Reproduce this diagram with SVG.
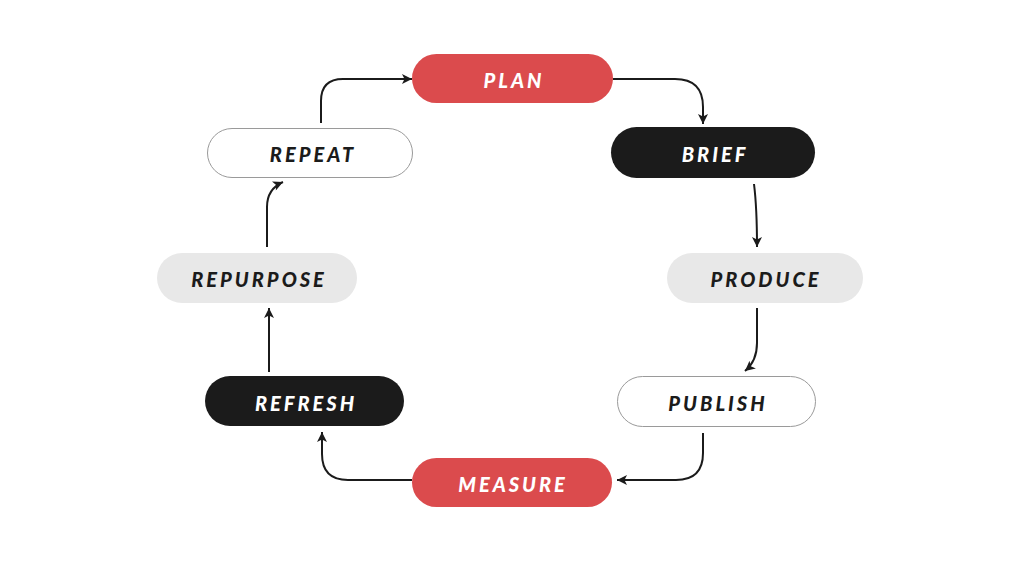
<svg xmlns="http://www.w3.org/2000/svg" width="1024" height="576" viewBox="0 0 1024 576">
<style>
.lbl{font-family:Lato,"Open Sans","Liberation Sans",sans-serif;font-weight:900;font-style:italic;font-size:20px;letter-spacing:3px;text-anchor:middle}
.red rect{fill:#DB4B4D}
.red text{fill:#ffffff}
.dark rect{fill:#1B1B1B}
.dark text{fill:#ffffff}
.grey rect{fill:#E8E8E8}
.grey text{fill:#1B1B1B}
.white rect{fill:#ffffff;stroke:#9a9a9a;stroke-width:1}
.white text{fill:#1B1B1B}
.conn path{fill:none;stroke:#1B1B1B;stroke-width:2;marker-end:url(#arr)}
</style>
<defs>
<marker id="arr" viewBox="0 0 10 10" refX="10" refY="5" markerWidth="11" markerHeight="10" markerUnits="userSpaceOnUse" orient="auto">
<path d="M0,0 L10,5 L0,10 L2.5,5 z" fill="#1B1B1B"/>
</marker>
</defs>
<rect width="1024" height="576" fill="#ffffff"/>
<g id="connectors" class="conn">
<path d="M321,123 V101 Q321,79 343,79 H412"/>
<path d="M613,79 H675 Q703,79 703,107 V124"/>
<path d="M754,184 Q757,208 757,247"/>
<path d="M757,308 V343 Q757,361 745,371"/>
<path d="M703,433 V453 Q703,480 676,480 H617"/>
<path d="M412,480 H348 Q322,480 322,454 V432"/>
<path d="M269,372 V308"/>
<path d="M267,247 V207 Q267,189 283,182"/>
</g>
<g id="plan" class="red"><rect x="412" y="54" width="201" height="49" rx="24.5"/><text class="lbl" x="514" y="87.5">PLAN</text></g>
<g id="brief" class="dark"><rect x="611" y="127" width="204" height="51" rx="25.5"/><text class="lbl" x="715" y="162">BRIEF</text></g>
<g id="produce" class="grey"><rect x="667" y="253" width="196" height="50" rx="25"/><text class="lbl" x="766" y="287">PRODUCE</text></g>
<g id="publish" class="white"><rect x="617.5" y="376.5" width="198" height="50" rx="25"/><text class="lbl" x="718" y="411">PUBLISH</text></g>
<g id="measure" class="red"><rect x="412" y="458" width="200" height="49" rx="24.5"/><text class="lbl" x="513" y="492">MEASURE</text></g>
<g id="refresh" class="dark"><rect x="205" y="376" width="199" height="50" rx="25"/><text class="lbl" x="306" y="411">REFRESH</text></g>
<g id="repurpose" class="grey"><rect x="157" y="253" width="200" height="50" rx="25"/><text class="lbl" x="259" y="287">REPURPOSE</text></g>
<g id="repeat" class="white"><rect x="207.5" y="128.5" width="205" height="49" rx="24.5"/><text class="lbl" x="313" y="162">REPEAT</text></g>
</svg>
